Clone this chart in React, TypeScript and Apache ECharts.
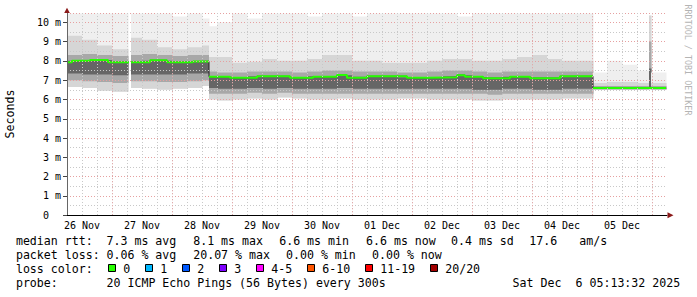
import React, { useEffect, useRef } from "react";
import * as echarts from "echarts";

// ---- time axis: hours since 26 Nov 00:00 ----
const dayLines = [24, 48, 72, 96, 120, 144, 168, 192, 216, 240];
const dayLabelHours = [12, 36, 60, 84, 108, 132, 156, 180, 204, 228];
const dayLabels = ["26 Nov", "27 Nov", "28 Nov", "29 Nov", "30 Nov", "01 Dec", "02 Dec", "03 Dec", "04 Dec", "05 Dec"];

// ---- smoke bins (hour edges) ----
const binEdges = [6, 12, 18, 24, 30.4, 31.6, 36, 42, 48, 54, 60, 62.8, 66, 72, 78, 84, 90, 96, 102, 108, 114, 120, 126, 132, 138, 144, 150, 156, 162, 168, 174, 180, 186, 192, 198, 204, 210, 216.4, 222, 228, 234, 238.8, 239.6, 245.6];
const smokeLow = [6.65, 6.6, 6.45, 6.4, null, 6.6, 6.55, 6.5, 6.55, 6.6, 6.7,
  6.0, 5.95, 6.0, 6.05, 6.0, 6.1, 6.05, 6.0, 6.0, 6.05, 6.0, 6.0, 6.0, 6.05, 6.05, 6.0, 6.0, 6.0, 5.95, 5.95, 6.0, 6.0, 6.0, 6.0, 6.05, 6.05,
  6.5, 6.5, 6.5, 6.5, 6.5, 6.5];
const midLow = [7.0, 6.95, 6.9, 6.85, null, 6.95, 6.95, 6.9, 6.9, 6.95, 7.0,
  6.3, 6.3, 6.3, 6.35, 6.3, 6.35, 6.3, 6.3, 6.3, 6.3, 6.3, 6.3, 6.3, 6.3, 6.3, 6.3, 6.3, 6.3, 6.3, 6.25, 6.3, 6.3, 6.3, 6.3, 6.3, 6.3,
  6.52, 6.52, 6.52, 6.52, 6.55, 6.52];
const coreLow = [7.35, 7.3, 7.3, 7.25, null, 7.3, 7.3, 7.3, 7.3, 7.35, 7.35,
  6.6, 6.55, 6.55, 6.6, 6.55, 6.6, 6.55, 6.55, 6.55, 6.6, 6.55, 6.55, 6.55, 6.55, 6.55, 6.55, 6.55, 6.55, 6.5, 6.5, 6.55, 6.55, 6.5, 6.5, 6.55, 6.55,
  6.55, 6.55, 6.55, 6.55, 6.6, 6.55];
const coreHigh = [8.0, 8.05, 8.05, 7.95, null, 7.95, 8.0, 8.0, 7.95, 7.97, 8.0,
  7.2, 7.18, 7.15, 7.2, 7.2, 7.18, 7.15, 7.2, 7.2, 7.25, 7.18, 7.2, 7.18, 7.15, 7.15, 7.15, 7.2, 7.25, 7.15, 7.12, 7.18, 7.15, 7.12, 7.12, 7.2, 7.2,
  6.62, 6.62, 6.62, 6.62, 7.6, 6.62];
const midHigh = [8.3, 8.35, 8.3, 8.25, null, 8.3, 8.35, 8.3, 8.25, 8.3, 8.3,
  7.45, 7.4, 7.4, 7.45, 7.45, 7.45, 7.4, 7.45, 7.5, 7.5, 7.45, 7.45, 7.45, 7.4, 7.4, 7.45, 7.5, 7.5, 7.45, 7.4, 7.45, 7.45, 7.45, 7.45, 7.45, 7.45,
  6.7, 6.7, 6.7, 6.7, 9.0, 6.7];
const denseTop = [9.3, 9.1, 8.8, 8.6, null, 9.2, 9.1, 8.7, 8.6, 8.7, 8.8,
  8.2, 8.2, 7.9, 7.95, 8.1, 8.0, 8.0, 8.1, 8.3, 8.3, 8.0, 8.0, 7.9, 7.9, 7.9, 8.0, 8.1, 8.1, 8.0, 8.0, 8.1, 8.2, 8.3, 8.1, 8.0, 8.0,
  6.85, 6.9, 6.9, 6.85, 10.35, 6.85];
const spikeTop = [10.45, 10.45, 10.45, 10.45, null, 10.45, 10.45, 10.45, 10.3, 10.45, 10.2,
  9.8, 10.0, 10.45, 10.2, 10.45, 10.45, 10.45, 10.3, 10.45, 10.45, 10.3, 10.45, 10.45, 10.45, 10.45, 10.45, 10.45, 10.3, 10.45, 10.45, 10.45, 10.45, 10.45, 10.45, 10.45, 10.45,
  7.4, 8.0, 7.8, 7.5, 10.35, 7.4];

// ---- median rtt (ms), piecewise constant ----
const medianHours = [6, 8, 15.2, 22.4, 30.4, 30.8, 31.6, 39.2, 46, 56.4, 62.8, 62.8, 62.8, 71.2, 82, 95.2, 104.4, 114, 118, 126, 142, 151.2, 162, 165.2, 172.4, 183.2, 191.2, 203.2, 216.4, 216.4, 216.4, 245.6];
const medianValues = [7.93, 8.0, 8.05, 7.93, 7.93, null, 7.93, 8.03, 7.93, 7.97, 7.97, null, 7.18, 7.12, 7.2, 7.13, 7.18, 7.27, 7.13, 7.2, 7.12, 7.15, 7.26, 7.18, 7.1, 7.18, 7.1, 7.2, 7.2, null, 6.6, 6.6];

// ---- legend texts ----
const rttStats = ["7.3 ms avg", "8.1 ms max", "6.6 ms min", "6.6 ms now", "0.4 ms sd", "17.6", "am/s"];
const lossStats = ["0.06 % avg", "20.07 % max", "0.00 % min", "0.00 % now"];
const lossLabels = ["0", "1", "2", "3", "4-5", "6-10", "11-19", "20/20"];
const lossColors = ["#26ff00", "#00b8ff", "#0059ff", "#7e00ff", "#ff00ff", "#ff5500", "#ff0000", "#a10000"];
const probeText = "20 ICMP Echo Pings (56 Bytes) every 300s";
const dateParts = ["Sat Dec", "6 05:13:32 2025"];

const MONO = "'DejaVu Sans Mono', monospace";
const rttX = [106.5, 193.2, 279.2, 366, 451, 529.2, 579.2];
const lossX = [106.5, 193.2, 286, 372];
const lossLabelX = [123.2, 160.2, 197.2, 234.2, 271.2, 322.2, 380.2, 445.2];

export default function App() {
  const ref = useRef<HTMLDivElement>(null);
  useEffect(() => {
    document.body.style.margin = "0";
    const chart = echarts.init(ref.current!, null, { renderer: "svg", width: 697, height: 297 });

    const smokeData = smokeLow.map((lo, i) => [
      binEdges[i], binEdges[i + 1],
      lo == null ? "-" : lo,
      midLow[i] == null ? "-" : midLow[i],
      coreLow[i] == null ? "-" : coreLow[i],
      coreHigh[i] == null ? "-" : coreHigh[i],
      midHigh[i] == null ? "-" : midHigh[i],
      denseTop[i] == null ? "-" : denseTop[i],
      spikeTop[i] == null ? "-" : spikeTop[i],
    ]);
    const medianData = medianHours.map((h, i) => [h, medianValues[i] == null ? "-" : medianValues[i]]);
    const darkData = medianHours
      .map((h, i) => ({ h, v: medianValues[i], i }))
      .filter((p) => !(p.v == null && medianHours[p.i - 1] === p.h))
      .map((p) => [p.h, p.v == null ? "-" : p.v]);

    const txt = (text: string, x: number, y: number, extra: any = {}) => ({
      type: "text",
      x, y,
      silent: true,
      style: {
        text, fill: "#000", fontFamily: MONO, fontSize: 11.6,
        align: "left", verticalAlign: "middle", textAlign: "left", textVerticalAlign: "middle",
        ...extra,
      },
    });

    const graphics: any[] = [
      txt("median rtt:", 15.9, 240.7),
      ...rttStats.map((s, i) => txt(s, rttX[i], 240.7)),
      txt("packet loss:", 15.9, 255),
      ...lossStats.map((s, i) => txt(s, lossX[i], 255)),
      txt("loss color:", 15.9, 269),
      ...lossLabels.map((s, i) => txt(s, lossLabelX[i], 269)),
      ...lossColors.map((c, i) => ({
        type: "rect", silent: true,
        shape: { x: lossLabelX[i] - 14.7, y: 264.5, width: 7, height: 7 },
        style: { fill: c, stroke: "#000", lineWidth: 1 },
      })),
      txt("probe:", 15.9, 283.3),
      txt(probeText, 106.5, 283.3),
      txt(dateParts[0], 512.5, 283.3),
      txt(dateParts[1], 575.5, 283.3),
      {
        type: "text", x: 10, y: 114, rotation: Math.PI / 2, silent: true,
        style: { text: "Seconds", fill: "#000", fontFamily: MONO, fontSize: 11.6, align: "center", verticalAlign: "middle", textAlign: "center", textVerticalAlign: "middle" },
      },
      {
        type: "text", x: 688, y: 60, rotation: -Math.PI / 2, silent: true,
        style: { text: "RRDTOOL / TOBI OETIKER", fill: "#b4b4b4", fontFamily: MONO, fontSize: 8.4, align: "center", verticalAlign: "middle", textAlign: "center", textVerticalAlign: "middle" },
      },
      {
        type: "polygon", silent: true, z: 20,
        shape: { points: [[64.2, 13], [69.8, 13], [67, 7.8]] },
        style: { fill: "#8b1a1a" },
      },
      {
        type: "polygon", silent: true, z: 20,
        shape: { points: [[667.5, 212.3], [667.5, 218.3], [673.5, 215.3]] },
        style: { fill: "#8b1a1a" },
      },
    ];

    const option: any = {
      animation: false,
      backgroundColor: "#ffffff",
      grid: { left: 67, top: 13, width: 600, height: 202.3, containLabel: false, outerBoundsMode: "none" },
      xAxis: {
        type: "value", min: 6, max: 246, interval: 6, z: 5,
        axisLine: { show: true, lineStyle: { color: "#000", width: 1 } },
        axisTick: { show: false },
        axisLabel: {
          customValues: dayLabelHours,
          formatter: (v: number) => dayLabels[dayLabelHours.indexOf(v)] ?? "",
          fontFamily: MONO, fontSize: 10, color: "#000", margin: 5,
        },
        splitLine: { show: true, showMinLine: false, showMaxLine: false, lineStyle: { color: "#c8c8c8", type: [1, 2], width: 1 } },
      },
      yAxis: {
        type: "value", min: 0, max: 10.48, interval: 1, z: 5,
        axisLine: { show: true, lineStyle: { color: "#666", width: 1 } },
        axisTick: { show: true, length: 4, lineStyle: { color: "#444" } },
        minorTick: { show: false, splitNumber: 2 },
        minorSplitLine: { show: true, lineStyle: { color: "#c8c8c8", type: [1, 2], width: 1 } },
        axisLabel: {
          formatter: (v: number) => (v === 0 ? "0\u00a0\u00a0" : `${v} m`),
          fontFamily: MONO, fontSize: 10, color: "#000", margin: 6,
        },
        splitLine: { show: true, lineStyle: { color: "#e6a0a0", type: [1, 2], width: 1 } },
      },
      series: [
        {
          type: "custom", z: 2, clip: true,
          data: smokeData,
          encode: { x: [0, 1], y: [2, 8] },
          renderItem: (params: any, api: any) => {
            const lo = api.value(2);
            if (isNaN(lo)) return null;
            const xa = api.coord([api.value(0), 0])[0];
            const xb = api.coord([api.value(1), 0])[0];
            const yy = (v: number) => api.coord([api.value(0), v])[1];
            const mk = (a: number, b: number, fill: string) => ({
              type: "rect",
              shape: { x: xa, y: yy(b), width: xb - xa + 0.5, height: yy(a) - yy(b) },
              style: { fill },
            });
            return {
              type: "group",
              children: [
                mk(lo, api.value(8), "#efefef"),
                mk(lo, api.value(7), "#d6d6d6"),
                mk(api.value(3), api.value(6), "#a8a8a8"),
                mk(api.value(4), api.value(5), "#666666"),
              ],
            };
          },
        },
        {
          type: "line", z: 3, data: darkData, step: "end", symbol: "none", connectNulls: false,
          lineStyle: { color: "#202020", width: 1 },
        },
        {
          type: "line", z: 4, data: medianData, step: "end", symbol: "none", connectNulls: false,
          lineStyle: { color: "#26ff00", width: 2 },
        },
        {
          type: "line", z: 6, data: [], symbol: "none",
          markLine: {
            silent: true, symbol: "none", label: { show: false },
            lineStyle: { color: "#e6a0a0", type: [1, 2], width: 1 },
            data: dayLines.map((h) => ({ xAxis: h })),
          },
        },
      ],
      graphic: graphics,
    };
    chart.setOption(option);
    return () => chart.dispose();
  }, []);
  return <div ref={ref} style={{ position: "fixed", left: 0, top: 0, width: 697, height: 297, background: "#fff" }} />;
}
